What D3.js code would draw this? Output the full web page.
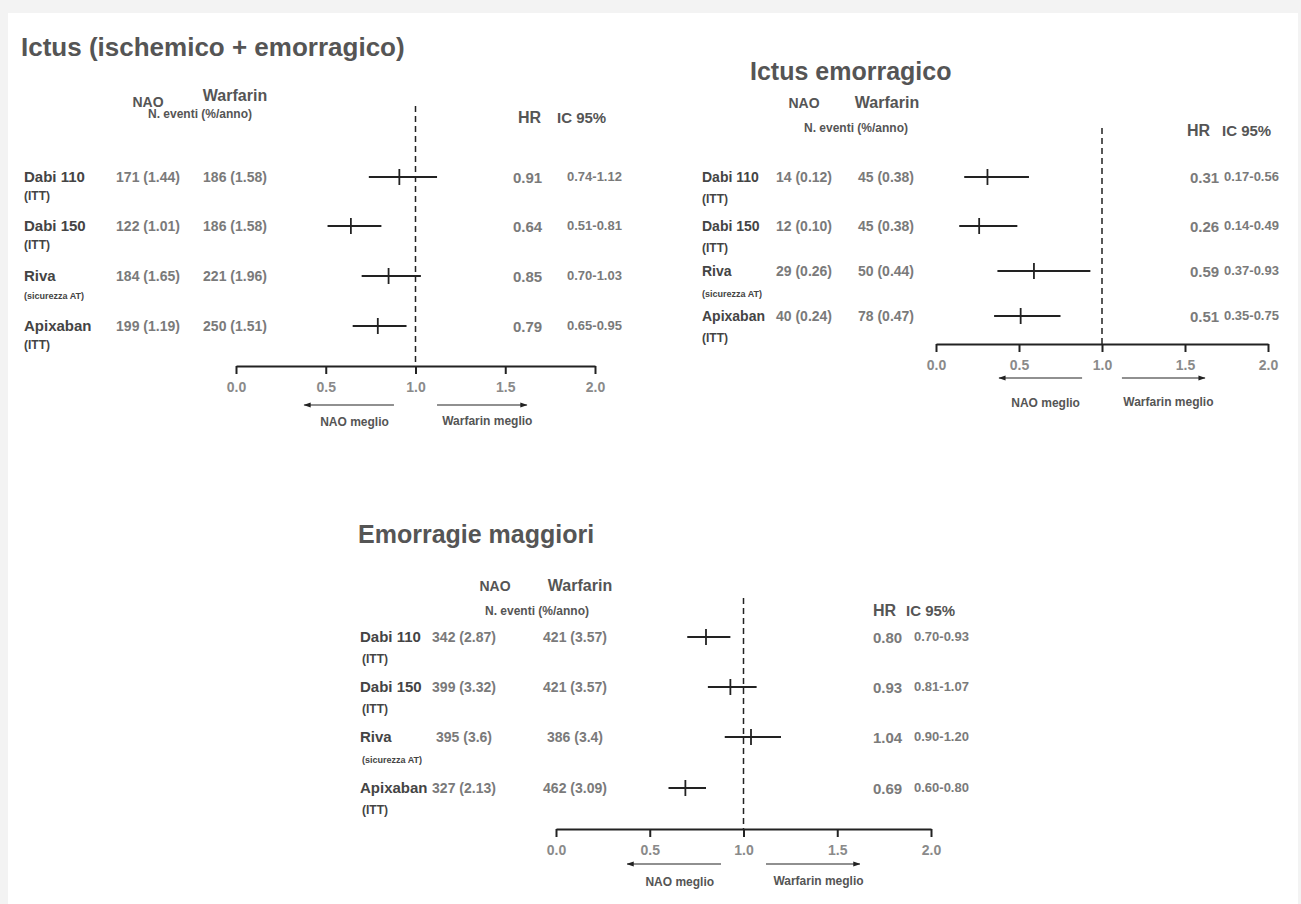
<!DOCTYPE html>
<html>
<head>
<meta charset="utf-8">
<script src="https://cdn.jsdelivr.net/npm/d3@7"></script>
<style>
  body { margin: 0; background: #f3f3f3; }
  svg { display: block; }
  text { font-family: "Liberation Sans", Arial, sans-serif; font-weight: bold; }
</style>
</head>
<body>
<svg id="chart"></svg>
<script>
// data
var drugs = ["Dabi 110", "Dabi 150", "Riva", "Apixaban"];
var subLabels = ["(ITT)", "(ITT)", "(sicurezza AT)", "(ITT)"];
var ticks = [0, 0.5, 1, 1.5, 2];

// Ictus (ischemico + emorragico)
var ictusNao = ["171 (1.44)", "122 (1.01)", "184 (1.65)", "199 (1.19)"];
var ictusWarf = ["186 (1.58)", "186 (1.58)", "221 (1.96)", "250 (1.51)"];
var ictusHR = [0.91, 0.64, 0.85, 0.79];
var ictusLo = [0.74, 0.51, 0.70, 0.65];
var ictusHi = [1.12, 0.81, 1.03, 0.95];

// Ictus emorragico
var emoNao = ["14 (0.12)", "12 (0.10)", "29 (0.26)", "40 (0.24)"];
var emoWarf = ["45 (0.38)", "45 (0.38)", "50 (0.44)", "78 (0.47)"];
var emoHR = [0.31, 0.26, 0.59, 0.51];
var emoLo = [0.17, 0.14, 0.37, 0.35];
var emoHi = [0.56, 0.49, 0.93, 0.75];

// Emorragie maggiori
var maggNao = ["342 (2.87)", "399 (3.32)", "395 (3.6)", "327 (2.13)"];
var maggWarf = ["421 (3.57)", "421 (3.57)", "386 (3.4)", "462 (3.09)"];
var maggHR = [0.80, 0.93, 1.04, 0.69];
var maggLo = [0.70, 0.81, 0.90, 0.60];
var maggHi = [0.93, 1.07, 1.20, 0.80];

var W = 1301, H = 904;
var svg = d3.select("#chart").attr("width", W).attr("height", H);

// page card (grey shadow at top / left)
svg.append("rect").attr("x", 8).attr("y", 13).attr("width", 1290).attr("height", H - 13).attr("fill", "#fff");

svg.append("defs").append("marker")
  .attr("id", "arrow")
  .attr("viewBox", "0 0 10 10")
  .attr("refX", 9).attr("refY", 5)
  .attr("markerWidth", 6).attr("markerHeight", 6)
  .attr("orient", "auto-start-reverse")
  .append("path").attr("d", "M0,1.5 L10,5 L0,8.5 Z").attr("fill", "#222");

var f2 = d3.format(".2f");

function drawPanel(p) {
  var g = svg.append("g");
  var x = d3.scaleLinear().domain([0, 2]).range([p.x0, p.x1]);

  g.append("text")
    .attr("x", p.titleX).attr("y", p.titleY)
    .style("font-size", p.titleSize + "px").attr("fill", "#555")
    .text(p.title);

  // column headers
  g.append("text").attr("x", p.naoHX).attr("y", p.naoHY).attr("text-anchor", "middle")
    .style("font-size", "14px").attr("fill", "#555").text("NAO");
  g.append("text").attr("x", p.warfHX).attr("y", p.warfHY).attr("text-anchor", "middle")
    .style("font-size", "16px").attr("fill", "#555").text("Warfarin");
  g.append("text").attr("x", p.evX).attr("y", p.evY).attr("text-anchor", "middle")
    .style("font-size", "12px").attr("fill", "#555").text("N. eventi (%/anno)");
  g.append("text").attr("x", p.hrHX).attr("y", p.hrHY)
    .style("font-size", "16px").attr("fill", "#555").text("HR");
  g.append("text").attr("x", p.icHX).attr("y", p.hrHY)
    .style("font-size", "15px").attr("fill", "#555").text("IC 95%");

  // reference line at HR = 1
  g.append("line")
    .attr("x1", x(1)).attr("x2", x(1))
    .attr("y1", p.dashTop).attr("y2", p.axisY)
    .attr("stroke", "#222").attr("stroke-width", 1.5)
    .attr("stroke-dasharray", "6,4");

  var rows = drugs.map(function(d, i) {
    return {drug: d, sub: subLabels[i], nao: p.nao[i], warf: p.warf[i],
            hr: p.hr[i], lo: p.lo[i], hi: p.hi[i], y: p.rowY[i]};
  });

  var r = g.selectAll(".row").data(rows).enter().append("g").attr("class", "row");

  r.append("text").attr("x", p.labelX).attr("y", function(d) { return d.y + 5; })
    .style("font-size", p.labelSize + "px").attr("fill", "#444").text(function(d) { return d.drug; });
  r.append("text").attr("x", p.labelX + p.subDx).attr("y", function(d) { return d.y + p.subDy + 4; })
    .style("font-size", function(d) { return d.sub == "(ITT)" ? "12px" : "9px"; })
    .attr("fill", "#444").text(function(d) { return d.sub; });
  r.append("text").attr("x", p.naoX).attr("y", function(d) { return d.y + 5; })
    .attr("text-anchor", "middle")
    .style("font-size", p.valSize + "px").attr("fill", "#7a7a7a").text(function(d) { return d.nao; });
  r.append("text").attr("x", p.warfX).attr("y", function(d) { return d.y + 5; })
    .attr("text-anchor", "middle")
    .style("font-size", p.valSize + "px").attr("fill", "#7a7a7a").text(function(d) { return d.warf; });
  r.append("text").attr("x", p.hrX).attr("y", function(d) { return d.y + 6; })
    .style("font-size", "15px").attr("fill", "#7a7a7a").text(function(d) { return f2(d.hr); });
  r.append("text").attr("x", p.ciX).attr("y", function(d) { return d.y + 4; })
    .style("font-size", "13px").attr("fill", "#7a7a7a")
    .text(function(d) { return f2(d.lo) + "-" + f2(d.hi); });

  // confidence intervals + point estimate
  r.append("line")
    .attr("x1", function(d) { return x(d.lo); }).attr("x2", function(d) { return x(d.hi); })
    .attr("y1", function(d) { return d.y; }).attr("y2", function(d) { return d.y; })
    .attr("stroke", "#222").attr("stroke-width", 1.8);
  r.append("line")
    .attr("x1", function(d) { return x(d.hr); }).attr("x2", function(d) { return x(d.hr); })
    .attr("y1", function(d) { return d.y - 8; }).attr("y2", function(d) { return d.y + 8; })
    .attr("stroke", "#222").attr("stroke-width", 1.8);

  // axis
  var ax = g.append("g")
    .attr("transform", "translate(0," + p.axisY + ")")
    .call(d3.axisBottom(x).tickValues(ticks).tickFormat(d3.format(".1f")).tickSize(8).tickSizeOuter(0));
  ax.select(".domain").attr("stroke", "#222").attr("stroke-width", 2);
  ax.selectAll(".tick line").attr("stroke", "#222").attr("stroke-width", 2);
  ax.selectAll(".tick text").attr("fill", "#8a8a8a").attr("dy", "1.1em")
    .style("font-family", "'Liberation Sans', Arial, sans-serif").style("font-size", "14px").style("font-weight", "bold");

  // direction arrows
  var ay = p.axisY + p.arrowDy;
  g.append("line").attr("x1", x(0.88)).attr("x2", x(0.38)).attr("y1", ay).attr("y2", ay)
    .attr("stroke", "#222").attr("stroke-width", 1.2).attr("marker-end", "url(#arrow)");
  g.append("line").attr("x1", x(1.12)).attr("x2", x(1.62)).attr("y1", ay).attr("y2", ay)
    .attr("stroke", "#222").attr("stroke-width", 1.2).attr("marker-end", "url(#arrow)");
  g.append("text").attr("x", x(0.66)).attr("y", ay + p.textDy).attr("text-anchor", "middle")
    .style("font-size", "12px").attr("fill", "#555").text("NAO meglio");
  g.append("text").attr("x", x(1.4)).attr("y", ay + p.textDy - 1).attr("text-anchor", "middle")
    .style("font-size", "12px").attr("fill", "#555").text("Warfarin meglio");
}

drawPanel({
  title: "Ictus (ischemico + emorragico)", titleX: 21, titleY: 56, titleSize: 26,
  x0: 236, x1: 595, axisY: 366, dashTop: 106, arrowDy: 39, textDy: 21,
  naoHX: 148, warfHX: 235, naoHY: 107, warfHY: 101, evX: 200, evY: 118,
  hrHX: 518, icHX: 557, hrHY: 123,
  labelX: 24, labelSize: 15, subDx: 0, subDy: 19,
  naoX: 148, warfX: 235, valSize: 14, hrX: 513, ciX: 567,
  rowY: [177, 226, 276, 326],
  nao: ictusNao, warf: ictusWarf, hr: ictusHR, lo: ictusLo, hi: ictusHi
});

drawPanel({
  title: "Ictus emorragico", titleX: 750, titleY: 80, titleSize: 25,
  x0: 936, x1: 1268, axisY: 344, dashTop: 128, arrowDy: 34, textDy: 29,
  naoHX: 804, warfHX: 887, naoHY: 108, warfHY: 108, evX: 856, evY: 132,
  hrHX: 1187, icHX: 1222, hrHY: 136,
  labelX: 702, labelSize: 14, subDx: 0, subDy: 22,
  naoX: 804, warfX: 886, valSize: 14, hrX: 1190, ciX: 1224,
  rowY: [177, 226, 271, 316],
  nao: emoNao, warf: emoWarf, hr: emoHR, lo: emoLo, hi: emoHi
});

drawPanel({
  title: "Emorragie maggiori", titleX: 358, titleY: 543, titleSize: 25,
  x0: 556, x1: 931, axisY: 829, dashTop: 598, arrowDy: 35, textDy: 22,
  naoHX: 495, warfHX: 580, naoHY: 591, warfHY: 591, evX: 537, evY: 615,
  hrHX: 873, icHX: 906, hrHY: 616,
  labelX: 360, labelSize: 15, subDx: 2, subDy: 22,
  naoX: 464, warfX: 575, valSize: 14, hrX: 873, ciX: 914,
  rowY: [637, 687, 737, 788],
  nao: maggNao, warf: maggWarf, hr: maggHR, lo: maggLo, hi: maggHi
});
</script>
</body>
</html>
